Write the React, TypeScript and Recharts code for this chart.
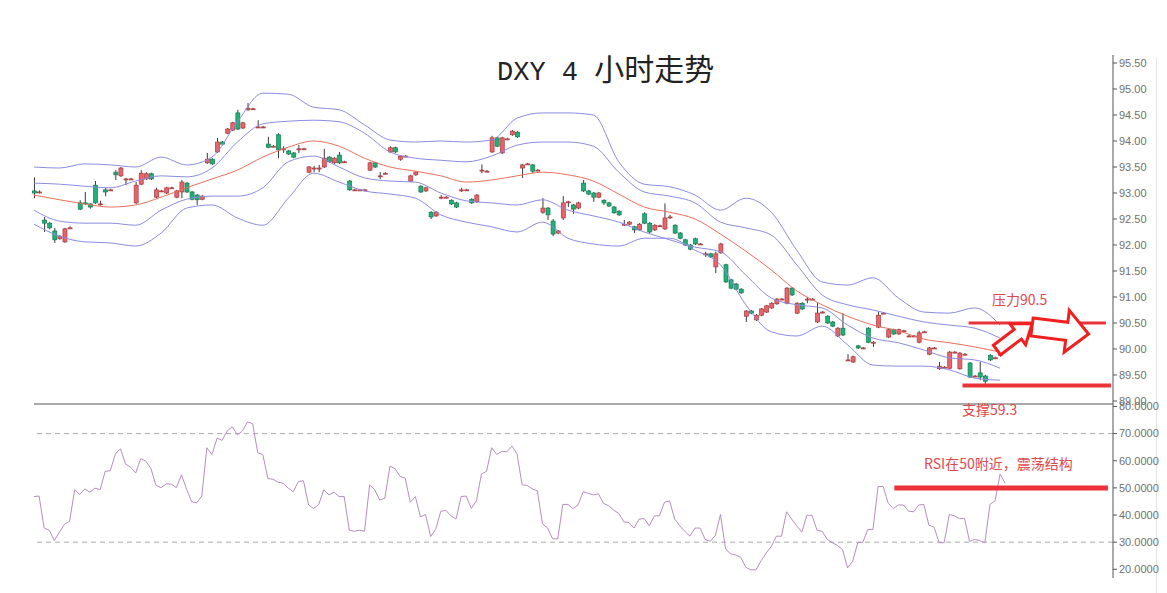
import React from "react";
import {
  ComposedChart,
  LineChart,
  Bar,
  Line,
  XAxis,
  YAxis,
  ReferenceLine,
} from "recharts";

// 4h candles, index 0..190 (index 8 has no visible bar)
const opens = [
  93.04, 93.02, 92.48, 92.42, 92.27, 92.12, 92.06, 92.33, null, 92.81,
  92.81, 92.79, 93.15, 92.79, 93.06, 93.06, 93.4, 93.33, 93.27, 93.27,
  92.81, 93.17, 93.27, 93.37, 92.92, 93.04, 93.0, 93.1, 92.92, 93.02,
  93.19, 93.02, 92.96, 92.88, 93.58, 93.65, 93.79, 93.98, 94.15, 94.21,
  94.54, 94.25, 94.6, 94.62, 94.27, 94.27, 93.94, 93.9, 94.12, 93.85,
  93.81, 93.77, 93.85, 93.85, 93.4, 93.48, 93.48, 93.5, 93.69, 93.58,
  93.73, 93.6, 93.23, 93.06, 93.06, 93.06, 93.44, 93.58, 93.33, 93.38,
  93.79, 93.87, 93.65, 93.71, 93.23, 93.35, 93.13, 93.04, 92.63, 92.56,
  92.92, 92.92, 92.86, 92.81, 93.06, 93.06, 92.88, 92.83, 93.44, 93.42,
  93.79, 94.06, 93.77, 94.04, 94.12, 94.17, 93.48, 93.56, 93.54, 93.44,
  92.63, 92.71, 92.46, 92.23, 92.52, 92.83, 92.77, 92.71, 93.19, 93.04,
  93.0, 92.92, 92.86, 92.81, 92.73, 92.65, 92.4, 92.4, 92.35, 92.29,
  92.6, 92.42, 92.29, 92.37, 92.31, 92.54, 92.38, 92.23, 92.1, 92.0,
  92.12, 92.02, 91.83, 91.83, 91.58, 91.85, 91.62, 91.33, 91.25, 91.15,
  90.63, 90.73, 90.56, 90.65, 90.71, 90.79, 90.87, 90.96, 90.88, 91.17,
  90.69, 90.88, 90.96, 90.96, 90.52, 90.71, 90.63, 90.52, 90.25, 90.4,
  89.79, 89.75, 90.06, 90.02, 90.4, 90.13, 90.42, 90.69, 90.23, 90.37,
  90.29, 90.35, 90.25, 90.25, 90.13, 90.33, 89.9, 90.02, 89.62, 89.65,
  89.63, 89.94, 89.62, 89.9, 89.73, 89.48, 89.54, 89.48, 89.88, 89.83, 89.88,
];
const closes = [
  93.0, 93.02, 92.42, 92.33, 92.1, 92.17, 92.31, 92.33, null, 92.69,
  92.8, 92.73, 92.81, 92.79, 93.02, 93.06, 93.35, 93.48, 93.27, 93.27,
  93.15, 93.38, 93.37, 93.27, 93.06, 93.04, 93.1, 93.1, 93.04, 93.21,
  93.02, 92.88, 92.87, 92.94, 93.65, 93.56, 93.98, 93.94, 94.23, 94.35,
  94.23, 94.35, 94.63, 94.62, 94.27, 94.27, 93.88, 93.9, 93.83, 93.85,
  93.75, 93.69, 93.85, 93.85, 93.5, 93.48, 93.48, 93.67, 93.6, 93.67,
  93.58, 93.6, 93.06, 93.06, 93.06, 93.06, 93.58, 93.5, 93.33, 93.38,
  93.87, 93.79, 93.71, 93.71, 93.33, 93.4, 93.02, 93.1, 92.54, 92.63,
  92.92, 92.92, 92.79, 92.73, 93.06, 93.06, 92.81, 92.96, 93.44, 93.42,
  94.06, 93.9, 94.06, 94.04, 94.19, 94.08, 93.54, 93.56, 93.42, 93.44,
  92.71, 92.58, 92.21, 92.27, 92.81, 92.83, 92.69, 92.81, 93.04, 92.98,
  92.92, 93.0, 92.81, 92.75, 92.62, 92.58, 92.4, 92.44, 92.29, 92.4,
  92.42, 92.25, 92.38, 92.37, 92.52, 92.54, 92.23, 92.13, 92.0, 91.92,
  92.02, 92.02, 91.83, 91.77, 91.83, 92.02, 91.29, 91.17, 91.15, 91.08,
  90.73, 90.69, 90.65, 90.77, 90.83, 90.88, 90.96, 90.96, 91.17, 91.04,
  90.88, 90.77, 90.96, 90.96, 90.69, 90.71, 90.5, 90.44, 90.4, 90.27,
  89.79, 89.85, 90.02, 90.02, 90.13, 90.13, 90.65, 90.69, 90.37, 90.29,
  90.37, 90.35, 90.25, 90.25, 90.31, 90.33, 90.02, 90.02, 89.67, 89.65,
  89.94, 89.94, 89.92, 89.9, 89.46, 89.48, 89.46, 89.38, 89.79, 89.83, 90.06,
];
const highs = [
  93.3, 93.05, 92.54, 92.44, 92.33, 92.19, 92.33, 92.36, null, 92.86,
  93.02, 92.8, 93.23, 92.85, 93.1, 93.08, 93.44, 93.5, 93.29, 93.29,
  93.21, 93.44, 93.4, 93.39, 93.1, 93.06, 93.12, 93.12, 93.06, 93.25,
  93.21, 93.04, 92.98, 92.96, 93.77, 93.67, 94.06, 94.0, 94.25, 94.37,
  94.6, 94.37, 94.73, 94.64, 94.4, 94.29, 94.08, 93.92, 94.15, 93.9,
  93.83, 93.79, 93.92, 93.87, 93.52, 93.52, 93.54, 93.85, 93.71, 93.69,
  93.79, 93.62, 93.25, 93.08, 93.08, 93.08, 93.6, 93.6, 93.4, 93.4,
  93.9, 93.89, 93.73, 93.73, 93.35, 93.42, 93.15, 93.12, 92.65, 92.65,
  92.96, 92.94, 92.88, 92.83, 93.1, 93.08, 92.9, 92.98, 93.55, 93.44,
  94.1, 94.08, 94.08, 94.06, 94.21, 94.19, 93.56, 93.58, 93.56, 93.46,
  92.9, 92.73, 92.5, 92.29, 92.94, 92.85, 92.79, 92.83, 93.25, 93.06,
  93.02, 93.02, 92.88, 92.83, 92.75, 92.67, 92.48, 92.46, 92.37, 92.42,
  92.63, 92.44, 92.4, 92.39, 92.8, 92.58, 92.4, 92.25, 92.12, 92.02,
  92.14, 92.04, 91.87, 91.85, 91.87, 92.04, 91.64, 91.35, 91.27, 91.17,
  90.75, 90.75, 90.67, 90.79, 90.85, 90.9, 90.98, 90.98, 91.19, 91.19,
  90.9, 90.9, 91.0, 90.98, 90.88, 90.73, 90.65, 90.54, 90.42, 90.69,
  89.9, 89.87, 90.08, 90.04, 90.42, 90.15, 90.71, 90.71, 90.39, 90.39,
  90.39, 90.37, 90.27, 90.27, 90.35, 90.35, 90.04, 90.04, 89.75, 89.67,
  89.96, 89.96, 89.94, 89.92, 89.75, 89.5, 89.75, 89.5, 89.9, 89.85, 90.08,
];
const lows = [
  92.9, 92.99, 92.25, 92.3, 92.04, 92.1, 92.04, 92.31, null, 92.67,
  92.77, 92.7, 92.79, 92.76, 92.94, 93.04, 93.25, 93.31, 93.15, 93.25,
  92.79, 93.15, 93.25, 93.25, 92.9, 93.02, 92.98, 93.08, 92.9, 92.9,
  93.0, 92.86, 92.77, 92.86, 93.56, 93.54, 93.77, 93.92, 94.13, 94.19,
  94.21, 94.23, 94.58, 94.6, 94.25, 94.25, 93.86, 93.88, 93.67, 93.77,
  93.73, 93.67, 93.77, 93.83, 93.38, 93.4, 93.4, 93.48, 93.58, 93.56,
  93.56, 93.58, 93.04, 93.04, 93.04, 93.04, 93.42, 93.48, 93.27, 93.36,
  93.77, 93.77, 93.62, 93.69, 93.21, 93.33, 93.0, 93.02, 92.5, 92.54,
  92.88, 92.9, 92.77, 92.71, 93.02, 93.04, 92.79, 92.81, 93.38, 93.4,
  93.77, 93.88, 93.75, 94.02, 94.1, 94.06, 93.29, 93.54, 93.38, 93.42,
  92.6, 92.48, 92.17, 92.21, 92.48, 92.73, 92.6, 92.69, 93.02, 92.96,
  92.83, 92.9, 92.77, 92.73, 92.6, 92.56, 92.37, 92.38, 92.23, 92.27,
  92.4, 92.23, 92.27, 92.35, 92.29, 92.5, 92.21, 92.11, 91.98, 91.9,
  92.0, 92.0, 91.77, 91.75, 91.46, 91.83, 91.27, 91.15, 91.13, 91.06,
  90.52, 90.67, 90.54, 90.63, 90.69, 90.77, 90.85, 90.94, 90.86, 91.02,
  90.67, 90.75, 90.88, 90.94, 90.5, 90.69, 90.48, 90.42, 90.23, 90.25,
  89.77, 89.73, 90.0, 90.0, 90.11, 90.04, 90.4, 90.67, 90.21, 90.27,
  90.27, 90.33, 90.23, 90.23, 90.11, 90.31, 89.88, 90.0, 89.6, 89.63,
  89.61, 89.92, 89.6, 89.88, 89.44, 89.46, 89.4, 89.33, 89.77, 89.81, 89.86,
];

// Bollinger bands, one value every BAND_STEP candles
const BAND_STEP = 5;
const bandUpper2 = [
  93.5, 93.48, 93.56, 93.54, 93.5, 93.69, 93.54, 93.69, 94.37, 94.92,
  94.9, 94.65, 94.6, 94.31, 94.02, 93.98, 94.0, 93.98, 94.02, 94.44,
  94.54, 94.54, 94.5, 93.6, 93.17, 93.12, 92.96, 92.67, 92.9, 92.63,
  91.9, 91.29, 91.23, 91.37, 90.98, 90.71, 90.69, 90.79, 90.46,
];
const bandUpper1 = [
  93.19, 93.17, 93.13, 93.1, 93.23, 93.33, 93.31, 93.48, 93.98, 94.33,
  94.38, 94.4, 94.37, 94.15, 93.79, 93.67, 93.63, 93.6, 93.71, 93.92,
  93.98, 93.98, 93.9, 93.4, 93.02, 92.94, 92.81, 92.44, 92.33, 92.19,
  91.62, 91.04, 90.85, 90.75, 90.63, 90.52, 90.46, 90.4, 90.21,
];
const bandMid = [
  92.96, 92.87, 92.79, 92.73, 92.77, 92.92, 93.1, 93.27, 93.44, 93.69,
  93.88, 94.0, 93.9, 93.67, 93.5, 93.42, 93.33, 93.21, 93.25, 93.33,
  93.4, 93.35, 93.23, 92.98, 92.73, 92.63, 92.5, 92.21, 91.88, 91.52,
  91.12, 90.85, 90.63, 90.46, 90.35, 90.19, 90.12, 90.04, 89.94,
];
const bandLower1 = [
  92.67, 92.46, 92.42, 92.42, 92.38, 92.67, 92.88, 92.94, 92.94, 93.1,
  93.6, 93.71, 93.5, 93.29, 93.23, 93.21, 93.0, 92.85, 92.81, 92.77,
  92.87, 92.67, 92.56, 92.44, 92.25, 92.1, 91.96, 91.87, 91.42, 90.98,
  90.85, 90.79, 90.46, 90.21, 90.12, 89.98, 89.83, 89.79, 89.63,
];
const bandLower2 = [
  92.4, 92.17, 92.06, 92.04, 91.98, 92.23, 92.71, 92.77, 92.52, 92.38,
  92.9, 93.38, 93.21, 93.04, 92.98, 92.9, 92.58, 92.44, 92.35, 92.25,
  92.44, 92.13, 92.02, 91.98, 92.13, 92.13, 91.9, 91.62, 90.85, 90.33,
  90.25, 90.44, 90.08, 89.69, 89.67, 89.67, 89.6, 89.44, 89.4,
];

const rsi = [
  46.8, 47.0, 35.2, 34.4, 30.6, 33.7, 36.6, 37.7, 49.3, 47.6,
  49.6, 48.4, 49.9, 49.3, 56.1, 56.3, 62.5, 64.4, 58.8, 57.6,
  55.5, 60.8, 59.8, 57.1, 50.9, 50.1, 51.5, 51.4, 50.1, 54.8,
  49.6, 44.9, 44.5, 47.0, 64.8, 62.3, 68.3, 67.5, 71.0, 72.5,
  69.5, 71.0, 74.3, 73.7, 62.9, 62.3, 53.4, 53.2, 52.1, 51.7,
  49.9, 48.6, 52.4, 52.6, 43.7, 42.4, 43.9, 49.3, 47.4, 48.4,
  46.8, 46.8, 34.4, 34.0, 34.4, 34.0, 51.1, 49.3, 45.5, 46.2,
  58.0, 57.1, 54.2, 53.6, 44.7, 46.8, 39.3, 40.2, 32.1, 34.7,
  41.4, 41.7, 39.7, 38.5, 46.8, 47.0, 42.4, 45.2, 55.1, 56.1,
  64.8, 62.3, 63.5, 63.3, 65.4, 62.5, 51.1, 50.9, 49.6, 48.9,
  36.8, 35.2, 31.2, 31.2, 43.9, 43.9, 42.4, 43.7, 48.6, 48.0,
  47.4, 47.8, 44.3, 43.4, 41.8, 40.6, 37.5, 37.2, 35.2, 38.5,
  38.7, 36.0, 39.7, 39.7, 44.7, 45.2, 38.5, 36.0, 34.0, 32.2,
  35.2, 35.2, 31.0, 30.3, 32.5, 40.2, 27.5, 25.7, 25.3, 24.4,
  20.7, 19.8, 19.8, 23.2, 26.0, 28.4, 32.2, 32.2, 41.2, 38.5,
  36.0, 33.7, 39.9, 39.9, 34.4, 34.0, 31.0, 29.8, 28.8, 27.3,
  20.5, 23.0, 29.8, 30.0, 34.7, 34.7, 50.5, 50.5, 44.3, 42.4,
  43.7, 43.7, 41.4, 41.2, 43.7, 43.9, 36.2, 35.6, 29.8, 29.8,
  40.2, 39.7, 38.7, 38.7, 30.3, 31.0, 30.6, 29.8, 43.9, 45.2,
  55.1, 51.7,
];

const priceTicks = [89, 89.5, 90, 90.5, 91, 91.5, 92, 92.5, 93, 93.5, 94, 94.5, 95, 95.5];
const rsiTicks = [20, 30, 40, 50, 60, 70, 80];

const X_MAX = 212.2;
const PRICE_DOMAIN = [88.942, 95.654];
const RSI_DOMAIN = [16.8, 80.9];

const resistance = 90.5;
const support = 89.3;
const rsiLevel = 50;

const rows = opens.map((o, i) => {
  const onBand = i % BAND_STEP === 0;
  const k = i / BAND_STEP;
  return {
    i,
    open: o,
    close: closes[i],
    high: highs[i],
    low: lows[i],
    range: o == null ? null : [lows[i], highs[i]],
    u2: onBand ? bandUpper2[k] : null,
    u1: onBand ? bandUpper1[k] : null,
    mid: onBand ? bandMid[k] : null,
    l1: onBand ? bandLower1[k] : null,
    l2: onBand ? bandLower2[k] : null,
  };
});

const rsiRows = rsi.map((v, i) => ({ i, rsi: v }));

const Candle = (props: any) => {
  const { x, y, width, height, payload } = props;
  if (!payload || payload.open == null) return null;
  const { open, close, high, low } = payload;
  const cx = x + width / 2;
  const top = Math.min(y, y + height);
  const h = Math.abs(height);
  const py = (v: number) => top + ((high - v) / (high - low)) * h;
  const up = close >= open;
  const bodyTop = py(Math.max(open, close));
  const bodyH = Math.max(1, py(Math.min(open, close)) - bodyTop);
  const fill = up ? "#e8646a" : "#22b07a";
  const edge = up ? "#a83a3e" : "#127a50";
  return (
    <g>
      <line x1={cx} x2={cx} y1={top} y2={top + h} stroke="#3a3a3a" strokeWidth={1} />
      <rect x={cx - 2} y={bodyTop} width={4} height={bodyH} fill={fill} stroke={edge} strokeWidth={0.7} />
    </g>
  );
};

const arrowPts = (L: number, hl: number, w: number, hw: number) =>
  [
    [0, -w],
    [L - hl, -w],
    [L - hl, -hw],
    [L, 0],
    [L - hl, hw],
    [L - hl, w],
    [0, w],
  ]
    .map((p) => p.join(","))
    .join(" ");

const tickStyle = { fontSize: 11, fill: "#707070", fontFamily: "'Liberation Sans', Arial, sans-serif" };
const noteStyle: React.CSSProperties = {
  position: "absolute",
  color: "#e2474d",
  fontSize: 14,
  fontFamily: "'Noto Sans CJK SC', sans-serif",
  lineHeight: "16px",
  whiteSpace: "nowrap",
};
const RED = "#ea3238";

export default function App() {
  return (
    <div style={{ position: "absolute", left: 0, top: 0, width: 1167, height: 593, background: "#fff", overflow: "hidden" }}>
      <div style={{ position: "absolute", left: 1156, top: 58, width: 1, height: 535, background: "#e4e4e4" }} />
      <div style={{ position: "absolute", left: 0, top: 0 }}>
        <ComposedChart width={1167} height={412} data={rows} margin={{ top: 55, right: 0, bottom: 8, left: 34 }}>
          <XAxis dataKey="i" type="number" domain={[0, X_MAX]} hide />
          <YAxis
            orientation="right"
            width={54}
            type="number"
            domain={PRICE_DOMAIN}
            allowDataOverflow
            ticks={priceTicks}
            interval={0}
            tickFormatter={(v: number) => v.toFixed(2)}
            tick={tickStyle}
            tickSize={4}
            tickMargin={2}
            axisLine={{ stroke: "#555" }}
            tickLine={{ stroke: "#555" }}
          />
          <ReferenceLine y={PRICE_DOMAIN[0]} stroke="#555" strokeWidth={1} />
          <Line dataKey="u2" type="monotone" stroke="#8b8ae0" strokeWidth={1} dot={false} connectNulls isAnimationActive={false} />
          <Line dataKey="u1" type="monotone" stroke="#8b8ae0" strokeWidth={1} dot={false} connectNulls isAnimationActive={false} />
          <Line dataKey="mid" type="monotone" stroke="#e8705a" strokeWidth={1} dot={false} connectNulls isAnimationActive={false} />
          <Line dataKey="l1" type="monotone" stroke="#8b8ae0" strokeWidth={1} dot={false} connectNulls isAnimationActive={false} />
          <Line dataKey="l2" type="monotone" stroke="#8b8ae0" strokeWidth={1} dot={false} connectNulls isAnimationActive={false} />
          <Bar dataKey="range" barSize={4} shape={<Candle />} isAnimationActive={false} />
          <ReferenceLine
            segment={[{ x: 183.8, y: resistance }, { x: 210.8, y: resistance }]}
            stroke={RED}
            strokeWidth={3}
          />
          <ReferenceLine
            segment={[{ x: 182.6, y: support }, { x: 211.8, y: support }]}
            stroke={RED}
            strokeWidth={4}
          />
        </ComposedChart>
      </div>
      <div style={{ position: "absolute", left: 0, top: 396 }}>
        <LineChart width={1167} height={197} data={rsiRows} margin={{ top: 8, right: 0, bottom: 15, left: 34 }}>
          <XAxis dataKey="i" type="number" domain={[0, X_MAX]} hide />
          <YAxis
            orientation="right"
            width={54}
            type="number"
            domain={RSI_DOMAIN}
            allowDataOverflow
            ticks={rsiTicks}
            interval={0}
            tickFormatter={(v: number) => v.toFixed(4)}
            tick={tickStyle}
            tickSize={4}
            tickMargin={2}
            axisLine={{ stroke: "#555" }}
            tickLine={{ stroke: "#555" }}
          />
          <ReferenceLine y={70} stroke="#aaa" strokeDasharray="5 4" />
          <ReferenceLine y={30} stroke="#aaa" strokeDasharray="5 4" />
          <Line dataKey="rsi" type="linear" stroke="#b48fbc" strokeWidth={1} dot={false} isAnimationActive={false} />
          <ReferenceLine
            segment={[{ x: 169.2, y: rsiLevel }, { x: 211.2, y: rsiLevel }]}
            stroke={RED}
            strokeWidth={5}
          />
        </LineChart>
      </div>
      <svg width={1167} height={593} style={{ position: "absolute", left: 0, top: 0, pointerEvents: "none" }}>
        <polygon
          points={arrowPts(44, 18, 6, 13)}
          transform="translate(997,350) rotate(-37)"
          fill="#fff"
          stroke="#f02020"
          strokeWidth={3}
          strokeLinejoin="miter"
        />
        <polygon
          points={arrowPts(57, 22, 9, 21)}
          transform="translate(1032,327) rotate(7)"
          fill="#fff"
          stroke="#f02020"
          strokeWidth={3}
          strokeLinejoin="miter"
        />
      </svg>
      <div
        style={{
          position: "absolute",
          left: 497,
          top: 50,
          lineHeight: "34px",
          color: "#222",
          whiteSpace: "nowrap",
        }}
      >
        <span style={{ fontSize: 27, fontFamily: "'Liberation Mono', monospace" }}>DXY 4 </span>
        <span style={{ fontSize: 30, fontFamily: "'Noto Sans CJK SC', sans-serif" }}>小时走势</span>
      </div>
      <div style={{ ...noteStyle, left: 992, top: 291 }}>压力90.5</div>
      <div style={{ ...noteStyle, left: 962, top: 401 }}>支撑59.3</div>
      <div style={{ ...noteStyle, left: 924, top: 455 }}>RSI在50附近，震荡结构</div>
    </div>
  );
}
